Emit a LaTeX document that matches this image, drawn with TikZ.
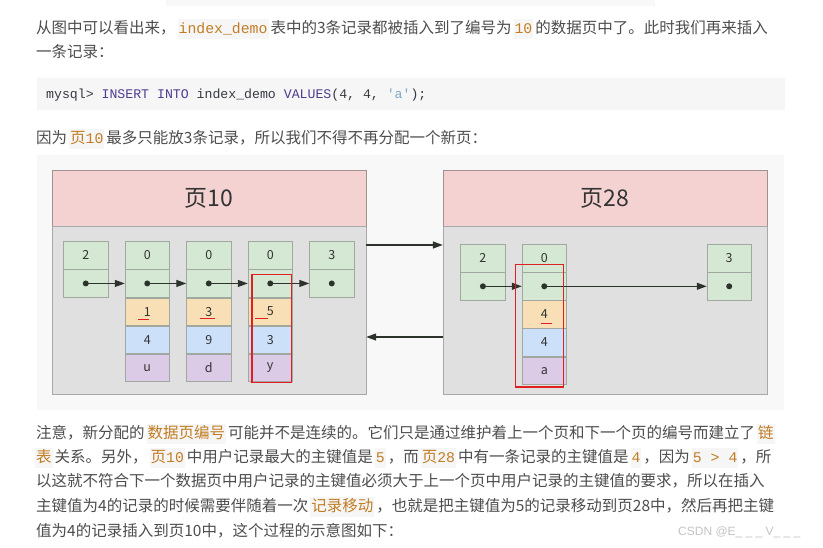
\documentclass[tikz,border=0pt]{standalone}
\usepackage{fontspec}
\setmainfont{Noto Sans CJK SC}
\setmonofont{Liberation Mono}
\newfontfamily\wmfont{Liberation Sans}
\usepackage{tikz}
\usetikzlibrary{arrows.meta,calc,positioning}
\XeTeXlinebreaklocale "zh"
\XeTeXlinebreakskip=0pt plus 2pt minus 0.5pt
\definecolor{txt}{HTML}{4D4D4D}
\definecolor{codebg}{HTML}{F6F6F6}
\definecolor{codefg}{HTML}{C27D24}
\definecolor{blockbg}{HTML}{F8F8F8}
\definecolor{sqlfg}{HTML}{383A42}
\definecolor{kw}{HTML}{4F3B8F}
\definecolor{strc}{HTML}{7FA9C4}
\definecolor{headfill}{HTML}{F4D2D2}
\definecolor{headline}{HTML}{A09090}
\definecolor{bodyfill}{HTML}{E0E0E0}
\definecolor{bodyline}{HTML}{A8A8A8}
\definecolor{cellline}{HTML}{A0A8A0}
\definecolor{gfill}{HTML}{D5E8D4}
\definecolor{ofill}{HTML}{F8DFB5}
\definecolor{bfill}{HTML}{CCE0FA}
\definecolor{pfill}{HTML}{DCCBE6}
\definecolor{celltxt}{HTML}{333333}
\definecolor{ptrc}{HTML}{2B332B}
\definecolor{redc}{HTML}{E02020}
\definecolor{wmc}{HTML}{C4C4C4}
\newcommand{\bodysize}{\fontsize{15.5}{18}\selectfont}
\newcommand{\cellsize}{\fontsize{12.5}{15}\selectfont}
\newcommand{\headsize}{\fontsize{23}{26}\selectfont}
\newcommand{\ic}[1]{\hspace{2pt}{\setlength{\fboxsep}{1pt}\colorbox{codebg}{\strut\color{codefg}#1}}\hspace{2pt}}
\newcommand{\mc}[1]{{\fontsize{14.8}{18}\ttfamily #1}}
\newcommand{\jline}[1]{\hbox to 739pt{#1}}
\tikzset{
  cell/.style={draw=cellline, minimum width=44.5pt, minimum height=27.7pt, inner sep=0pt, font=\cellsize, text=celltxt},
  gcell/.style={cell, fill=gfill},
  ocell/.style={cell, fill=ofill},
  bcell/.style={cell, fill=bfill},
  pcell/.style={cell, fill=pfill},
  pagehead/.style={draw=headline, fill=headfill, minimum height=56pt, inner sep=0pt, font=\headsize, text=celltxt},
  pagebody/.style={draw=bodyline, fill=bodyfill, minimum height=168pt, inner sep=0pt},
  ptr/.style={-{Triangle[length=10pt,width=7pt]}, draw=ptrc, fill=ptrc, line width=1.2pt},
  movebox/.style={draw=redc, line width=1.3pt},
  redline/.style={draw=redc, line width=1pt},
  txtline/.style={inner sep=0pt, anchor=base west, text=txt, font=\bodysize},
}
\begin{document}
\begin{tikzpicture}[x=1pt,y=-1pt]
\useasboundingbox[fill=white] (0,0) rectangle (823,547);
\fill[blockbg] (166,0) rectangle (655,6);

% text above
\node[txtline] (l1) at (36,33) {\jline{从图中可以看出来，\ic{\mc{index\_demo}}表中的3条记录都被插入到了编号为\ic{\mc{10}}的数据页中了。此时我们再来插入}};
\node[txtline] (l2) at (36,57.7) {一条记录：};
\fill[codebg] (37,77.7) rectangle (785,110);
\node[inner sep=0pt, anchor=west, font=\fontsize{13.2}{16}\ttfamily] (sql) at (46,95)
  {\textcolor{sqlfg}{mysql>} \textcolor{kw}{INSERT INTO} \textcolor{sqlfg}{index\_demo} \textcolor{kw}{VALUES}\textcolor{sqlfg}{(4, 4, }\textcolor{strc}{'a'}\textcolor{sqlfg}{);}};
\node[txtline] (l3) at (36,143) {因为\ic{页\mc{10}}最多只能放3条记录，所以我们不得不再分配一个新页：};

% diagram
\fill[blockbg] (37,155) rectangle (784,410);
\node[pagehead, minimum width=314pt] (head10) at (209,198) {页10};
\node[pagebody, minimum width=314pt, below=0pt of head10] (body10) {};
\node[pagehead, minimum width=324pt] (head28) at (605,198) {页28};
\node[pagebody, minimum width=324pt, below=0pt of head28] (body28) {};

\foreach \i/\cx/\nk in {0/85.75/2, 1/147.25/0, 2/208.75/0, 3/270.25/0, 4/331.75/3}{
  \node[gcell] (a\i) at (\cx,255.35) {\nk};
  \node[gcell, below=0pt of a\i] (b\i) {};
}
\foreach \i/\pk/\c/\d/\ua/\ub/\uy in {1/1/4/u/-9/2/8, 2/3/9/d/-8.5/6/7, 3/5/3/y/-15/-2/6.5}{
  \node[ocell, below=0pt of b\i] (c\i) {\pk};
  \node[bcell, below=0pt of c\i] (d\i) {\c};
  \node[pcell, below=0pt of d\i] (e\i) {\d};
  \draw[redline] ($(c\i.center)+(\ua,\uy)$) -- ($(c\i.center)+(\ub,\uy)$);
}
\foreach \i [evaluate=\i as \j using int(\i+1)] in {0,...,3}{
  \draw[ptr] (b\i.center) -- (b\j.west);
}
\foreach \i in {0,...,4}{
  \fill[ptrc] (b\i.center) circle (3);
}
\draw[movebox] ($(b3.north west)+(4.3,4.8)$) rectangle ($(e3.south east)+(-1.5,0.7)$);

\node[gcell] (q0a) at (482.9,258.2) {2};
\node[gcell, below=0pt of q0a] (q0b) {};
\node[gcell] (q1a) at (544.3,258.2) {0};
\node[gcell, below=0pt of q1a] (q1b) {};
\node[ocell, below=0pt of q1b] (q1c) {4};
\node[bcell, below=0pt of q1c] (q1d) {4};
\node[pcell, below=0pt of q1d] (q1e) {a};
\node[gcell] (q2a) at (729.2,258.2) {3};
\node[gcell, below=0pt of q2a] (q2b) {};
\draw[redline] ($(q1c.center)+(-3.3,8.7)$) -- ($(q1c.center)+(7.4,8.7)$);
\draw[ptr] (q0b.center) -- (q1b.west);
\draw[ptr] (q1b.center) -- (q2b.west);
\foreach \n in {q0b,q1b,q2b}{
  \fill[ptrc] (\n.center) circle (3);
}
\draw[movebox] ($(q1b.north west)+(-6.3,-8)$) rectangle ($(q1e.south east)+(-3.2,2.2)$);

% links between the pages
\coordinate (fwd) at (0,245);
\coordinate (bwd) at (0,337);
\draw[ptr] (body10.east |- fwd) -- (body28.west |- fwd);
\draw[ptr] (body28.west |- bwd) -- (body10.east |- bwd);

% text below
\node[txtline] (l4) at (36,438) {\jline{注意，新分配的\ic{数据页编号}可能并不是连续的。它们只是通过维护着上一个页和下一个页的编号而建立了\ic{链}}};
\node[txtline] (l5) at (36,462) {\jline{\hspace{-3pt}\ic{表}关系。另外，\ic{页\mc{10}}中用户记录最大的主键值是\ic{\mc{5}}，而\ic{页\mc{28}}中有一条记录的主键值是\ic{\mc{4}}，因为\ic{\mc{5 > 4}}，所}};
\node[txtline] (l6) at (36,486.5) {\jline{以这就不符合下一个数据页中用户记录的主键值必须大于上一个页中用户记录的主键值的要求，所以在插入}};
\node[txtline] (l7) at (36,511) {\jline{主键值为4的记录的时候需要伴随着一次\ic{记录移动}，也就是把主键值为5的记录移动到页28中，然后再把主键}};
\node[txtline] (l8) at (36,536) {值为4的记录插入到页10中，这个过程的示意图如下：};
\node[inner sep=0pt, anchor=west, text=wmc, font=\wmfont\fontsize{12}{14}\selectfont] (wm) at (678,532) {CSDN @E\_ \_ \_ V\_ \_ \_};
\end{tikzpicture}
\end{document}
